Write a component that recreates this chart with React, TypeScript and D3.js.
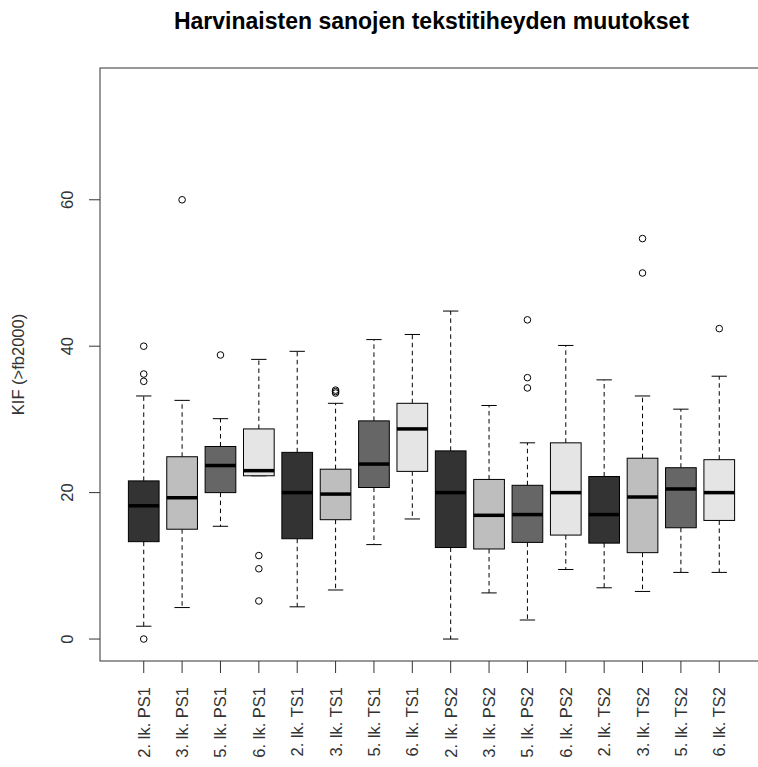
import React from "react";
import * as d3 from "d3";

// Group labels, in plotting order
const categories = [
  "2. lk. PS1", "3. lk. PS1", "5. lk. PS1", "6. lk. PS1",
  "2. lk. TS1", "3. lk. TS1", "5. lk. TS1", "6. lk. TS1",
  "2. lk. PS2", "3. lk. PS2", "5. lk. PS2", "6. lk. PS2",
  "2. lk. TS2", "3. lk. TS2", "5. lk. TS2", "6. lk. TS2",
];

// Five-number summaries per group
const whiskerLow = [1.75, 4.3, 15.4, 22.3, 4.4, 6.7, 12.9, 16.4, 0.0, 6.3, 2.6, 9.5, 7.0, 6.5, 9.1, 9.1];
const lowerQuartile = [13.3, 15.0, 20.0, 22.3, 13.7, 16.3, 20.7, 22.9, 12.5, 12.3, 13.2, 14.2, 13.1, 11.8, 15.2, 16.2];
const medians = [18.2, 19.3, 23.7, 23.0, 20.0, 19.8, 23.9, 28.7, 20.0, 16.9, 17.0, 20.0, 17.0, 19.4, 20.5, 20.0];
const upperQuartile = [21.6, 24.9, 26.3, 28.7, 25.5, 23.2, 29.8, 32.2, 25.7, 21.8, 21.0, 26.8, 22.2, 24.7, 23.4, 24.5];
const whiskerHigh = [33.2, 32.6, 30.1, 38.2, 39.3, 32.2, 40.9, 41.6, 44.8, 31.9, 26.8, 40.1, 35.4, 33.2, 31.4, 35.9];

// Points beyond the whiskers
const outliers: number[][] = [
  [40.0, 36.2, 35.2, 0.0],
  [60.0],
  [38.8],
  [11.4, 9.6, 5.2],
  [],
  [33.6, 33.8, 34.0],
  [],
  [],
  [],
  [],
  [43.6, 35.7, 34.3],
  [],
  [],
  [54.7, 50.0],
  [],
  [42.4],
];

const yTicks = [0, 20, 40, 60];
const fills = ["#333333", "#bebebe", "#666666", "#e5e5e5"];

const title = "Harvinaisten sanojen tekstitiheyden muutokset";
const yLabel = "KIF (>fb2000)";

export default function App() {
  const width = 758;
  const height = 767;
  const left = 100;
  const right = 763;
  const top = 68;
  const bottom = 661;

  const n = categories.length;
  const ext = n * 0.04;
  const x = d3.scaleLinear().domain([0.5 - ext, n + 0.5 + ext]).range([left, right]);
  const y = d3.scaleLinear().domain([-3, 78]).range([bottom, top]);

  const step = x(2) - x(1);
  const boxW = step * 0.8;
  const capW = boxW / 2;
  const font = "'Liberation Sans', Arial, sans-serif";

  return (
    <svg
      width={width}
      height={height}
      style={{ position: "absolute", left: 0, top: 0, background: "#fff" }}
      fontFamily={font}
    >
      <rect x={0} y={0} width={width} height={height} fill="#fff" />
      <text
        x={(left + right) / 2}
        y={29}
        textAnchor="middle"
        fontWeight="bold"
        fontSize={23}
        fill="#000"
      >
        {title}
      </text>

      {/* plot frame */}
      <rect x={left} y={top} width={right - left} height={bottom - top} fill="none" stroke="#333" strokeWidth={1} />

      {/* y axis */}
      {yTicks.map((t) => (
        <g key={t}>
          <line x1={left} x2={left - 11} y1={y(t)} y2={y(t)} stroke="#333" />
          <text
            transform={`translate(${left - 27},${y(t)}) rotate(-90)`}
            textAnchor="middle"
            fontSize={16.5}
            fill="#333"
          >
            {t}
          </text>
        </g>
      ))}
      <text
        transform={`translate(24,${(top + bottom) / 2}) rotate(-90)`}
        textAnchor="middle"
        fontSize={16.5}
        fill="#333"
      >
        {yLabel}
      </text>

      {/* x axis */}
      {categories.map((c, i) => {
        const cx = x(i + 1);
        return (
          <g key={c}>
            <line x1={cx} x2={cx} y1={bottom} y2={bottom + 12} stroke="#333" />
            <text
              transform={`translate(${cx + 6},${bottom + 26}) rotate(-90)`}
              textAnchor="end"
              fontSize={16.5}
              fill="#333"
            >
              {c}
            </text>
          </g>
        );
      })}

      {/* boxes */}
      {categories.map((c, i) => {
        const cx = x(i + 1);
        return (
          <g key={"b" + c}>
            <line x1={cx} x2={cx} y1={y(upperQuartile[i])} y2={y(whiskerHigh[i])} stroke="#000" strokeDasharray="4.5,3.5" />
            <line x1={cx} x2={cx} y1={y(lowerQuartile[i])} y2={y(whiskerLow[i])} stroke="#000" strokeDasharray="4.5,3.5" />
            <line x1={cx - capW / 2} x2={cx + capW / 2} y1={y(whiskerHigh[i])} y2={y(whiskerHigh[i])} stroke="#000" />
            <line x1={cx - capW / 2} x2={cx + capW / 2} y1={y(whiskerLow[i])} y2={y(whiskerLow[i])} stroke="#000" />
            <rect
              x={cx - boxW / 2}
              y={y(upperQuartile[i])}
              width={boxW}
              height={y(lowerQuartile[i]) - y(upperQuartile[i])}
              fill={fills[i % 4]}
              stroke="#000"
              strokeWidth={1}
            />
            <line x1={cx - boxW / 2} x2={cx + boxW / 2} y1={y(medians[i])} y2={y(medians[i])} stroke="#000" strokeWidth={3.5} />
            {outliers[i].map((v, j) => (
              <circle key={j} cx={cx} cy={y(v)} r={3.3} fill="none" stroke="#000" strokeWidth={1} />
            ))}
          </g>
        );
      })}
    </svg>
  );
}
